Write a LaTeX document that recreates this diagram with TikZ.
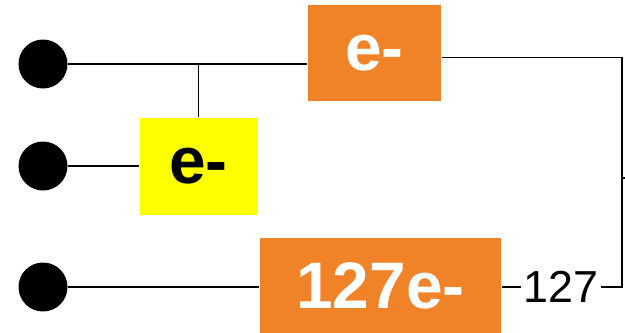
\documentclass[tikz,border=0pt]{standalone}
\usepackage{fontspec}
\setmainfont{Liberation Sans}
\definecolor{gateorange}{RGB}{240, 130, 40}
\definecolor{gateyellow}{RGB}{255, 255, 0}
\usetikzlibrary{positioning, calc}

\begin{document}
\begin{tikzpicture}[
  x=1bp, y=-1bp, line width=1.4bp,
  pin/.style={circle, fill=black, minimum size=49bp, inner sep=0pt},
  obox/.style={fill=gateorange, text=white, inner sep=0pt, font=\fontsize{66}{66}\selectfont\bfseries},
  ybox/.style={fill=gateyellow, text=black, inner sep=0pt, font=\fontsize{66}{66}\selectfont\bfseries},
  cnt/.style={inner sep=2bp, font=\fontsize{45}{45}\selectfont}
]
  \useasboundingbox (0,0) rectangle (625,332);

  % inputs
  \node[pin] (in1) at (43, 64) {};
  \node[pin] (in2) at (43, 166) {};
  \node[pin] (in3) at (43, 287) {};

  % gates
  \node[obox, minimum width=133bp, minimum height=96bp] (eTop) at (374.5, 53) {e-};
  \node[ybox, minimum width=117bp, minimum height=97bp] (eMid) at (198.5, 166) {e-};
  \node[obox, minimum width=241bp, minimum height=96bp] (eBig) at (380.5, 286) {127e-};
  \node[cnt] (n127) at (561, 287) {127};

  \coordinate (rTop) at (622, 57.5);
  \coordinate (rBot) at (622, 287);
  \coordinate (rOut) at (625, 178);

  % wiring
  \draw (in1) -- (in1 -| eTop.west);
  \draw (eMid.north) -- (eMid.north |- in1);
  \draw (in2) -- (in2 -| eMid.west);
  \draw (in3) -- (in3 -| eBig.west);
  \draw (eBig.east |- n127) -- (n127.west);
  \draw (n127.east) -- (rBot) -- (rTop) -- (rTop -| eTop.east);
  \draw (rOut -| rBot) -- (rOut);
\end{tikzpicture}
\end{document}
